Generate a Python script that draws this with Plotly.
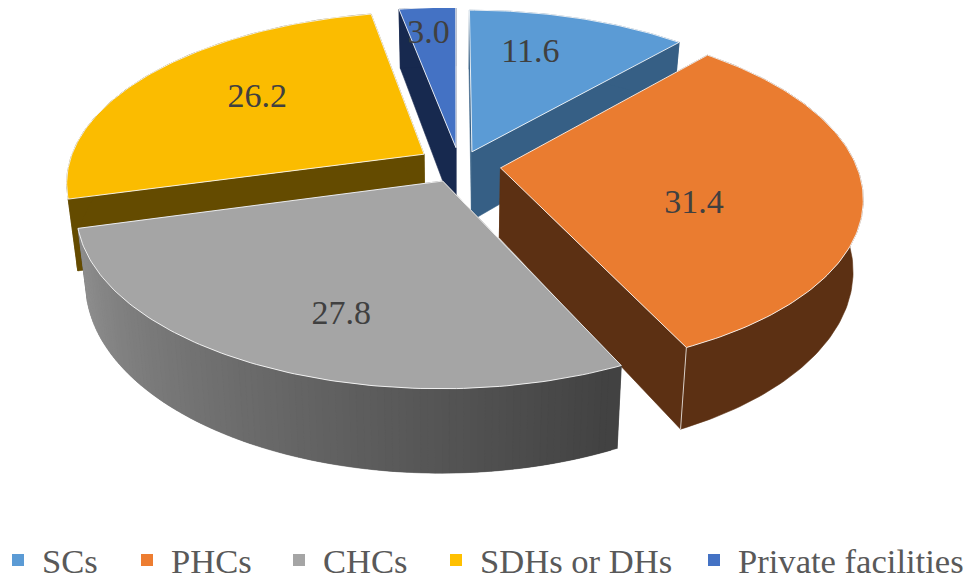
import math
import plotly.graph_objects as go

categories = ["SCs", "PHCs", "CHCs", "SDHs or DHs", "Private facilities"]
values = [11.6, 31.4, 27.8, 26.2, 3.0]
value_labels = ["11.6", "31.4", "27.8", "26.2", "3.0"]

top_colors = ["#5b9bd5", "#ea7c30", "#a5a5a5", "#fbbc00", "#4472c4"]
legend_colors = ["#5b9bd5", "#ed7d31", "#a5a5a5", "#ffc000", "#4472c4"]
side_colors = ["#365f85", "#5c3013", "#444444", "#644b00", "#17294f"]
pull_x = [18, 46, -11, -30, 2]
pull_y = [11, -23, -50, 6, 20]
label_frac = [0.62, 0.52, 0.62, 0.57, 0.72]
label_drop = [0, 22, 33, 14, 0]
label_nudge_x = [-11, 9, 2, -7, -6]
label_nudge_y = [-11, 1, -10, -21, -8]
paint_order = [4, 0, 3, 1, 2]
legend_left = [-14, 115, 267, 424, 682]

FIG_W, FIG_H = 964, 568
CX, CY = 446, 149
R, Q, K, H = 353, 0.16, 0.47, 69
D = R / Q


def project(X, Y, Z=0.0):
    s = 1 / (1 + Y / D)
    return CX + X * s * (1 - 0.025 * Z / H), CY - K * Y * s + Z * s


fig = go.Figure()


def poly(pts, color, line=None, width=0.6):
    fig.add_trace(go.Scatter(
        x=[p[0] for p in pts] + [pts[0][0]], y=[p[1] for p in pts] + [pts[0][1]],
        mode="lines", fill="toself", fillcolor=color,
        line=dict(color=line or color, width=width),
        showlegend=False, hoverinfo="skip"))


def grey(t):
    a, b = 0x92, 0x42
    v = int(a + (b - a) * t)
    return f"rgb({v},{v},{v})"


total = sum(values)
bounds = [0.0]
for v in values:
    bounds.append(bounds[-1] + v / total * 2 * math.pi)

label_x, label_y = [None] * 5, [None] * 5
for i in paint_order:
    a0, a1 = bounds[i], bounds[i + 1]
    mid = (a0 + a1) / 2
    ox, oy = pull_x[i], pull_y[i]
    n = max(8, int((a1 - a0) * 60))
    ang = [a0 + (a1 - a0) * j / n for j in range(n + 1)]
    rim = [(ox + R * math.sin(a), oy + R * math.cos(a)) for a in ang]
    # cut faces
    for corner in (rim[0], rim[-1]):
        poly([project(ox, oy), project(*corner), project(corner[0], corner[1], H), project(ox, oy, H)],
             side_colors[i])
    # outer wall
    if i == 2:
        for j in range(n - 1, -1, -1):
            k = min(j + 2, n)
            poly([project(*rim[j]), project(*rim[k]), project(rim[k][0], rim[k][1], H),
                  project(rim[j][0], rim[j][1], H)], grey(1 - j / (n - 1)), width=0.3)
    else:
        poly([project(*p) for p in rim] + [project(p[0], p[1], H) for p in reversed(rim)], side_colors[i])
    # vertical edge highlight on the near corner
    if i == 1:
        c0, c1 = project(*rim[-1]), project(rim[-1][0], rim[-1][1], H)
        fig.add_trace(go.Scatter(x=[c0[0], c1[0]], y=[c0[1], c1[1]], mode="lines",
                                 line=dict(color="rgba(255,255,255,0.75)", width=1),
                                 showlegend=False, hoverinfo="skip"))
    # top
    poly([project(ox, oy)] + [project(*p) for p in rim], top_colors[i], line="rgba(255,255,255,0.85)", width=1)
    # label
    lx = ox + R * label_frac[i] * math.sin(mid)
    ly = oy + R * label_frac[i] * math.cos(mid)
    px, py = project(lx, ly, label_drop[i])
    label_x[i], label_y[i] = px + label_nudge_x[i], py + label_nudge_y[i]

fig.add_trace(go.Scatter(x=label_x, y=label_y, text=value_labels, mode="text", textposition="middle center",
                         textfont=dict(family="Liberation Serif", size=34, color="#404040"),
                         showlegend=False, hoverinfo="skip"))

legends = {}
for idx, (name, col, left) in enumerate(zip(categories, legend_colors, legend_left)):
    key = "legend" if idx == 0 else f"legend{idx + 1}"
    fig.add_trace(go.Scatter(x=[None], y=[None], mode="markers", name=name, legend=key, showlegend=True,
                             marker=dict(symbol="square", size=12, color=col)))
    legends[key] = dict(x=left / FIG_W, xanchor="left", y=1 - 552 / FIG_H, yanchor="middle", itemwidth=38,
                        font=dict(family="Liberation Serif", size=34.6, color="#595959"),
                        bgcolor="rgba(0,0,0,0)")

fig.update_layout(
    width=FIG_W, height=FIG_H, margin=dict(l=0, r=0, t=0, b=0, autoexpand=False),
    paper_bgcolor="white", plot_bgcolor="white",
    xaxis=dict(range=[0, FIG_W], visible=False),
    yaxis=dict(range=[FIG_H, 0], visible=False),
    **legends,
)
fig.write_html("out.html")
